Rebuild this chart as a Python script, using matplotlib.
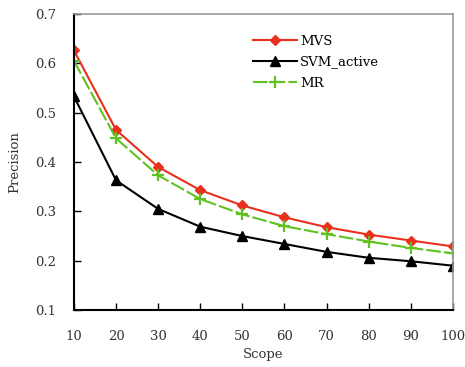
import matplotlib
matplotlib.use("Agg")
import matplotlib.pyplot as plt

# values
scope = [10, 20, 30, 40, 50, 60, 70, 80, 90, 100]
mvs = [0.626, 0.465, 0.390, 0.343, 0.312, 0.288, 0.268, 0.253, 0.241, 0.229]
svm_active = [0.533, 0.363, 0.305, 0.269, 0.250, 0.234, 0.218, 0.206, 0.199, 0.190]
mr = [0.605, 0.448, 0.373, 0.325, 0.294, 0.270, 0.254, 0.239, 0.226, 0.215]

plt.rcParams['font.family'] = ['DejaVu Serif']

fig = plt.figure(figsize=(4.65, 3.67), dpi=100)
ax = fig.add_axes([0.159, 0.155, 0.815, 0.807])

ax.plot(scope, mvs, color="#e8301c", marker="D", markersize=5.5, lw=1.5, label="MVS")
ax.plot(scope, svm_active, color="black", marker="^", markersize=7, lw=1.5, label="SVM_active")
ax.plot(scope, mr, color="#5fc21e", marker="+", markersize=9, mew=1.6, lw=1.5,
        dashes=(7, 1.5), label="MR")

ax.set_xlim(10, 100)
ax.set_ylim(0.1, 0.7)
ax.set_xticks(scope)
ax.set_yticks([0.1, 0.2, 0.3, 0.4, 0.5, 0.6, 0.7])
ax.set_yticklabels(["0.1", "0.2", "0.3", "0.4", "0.5", "0.6", "0.7"])

ax.tick_params(axis="x", direction="in", length=5, width=1, pad=14, labelsize=9.5, colors="#333333")
ax.tick_params(axis="y", direction="in", length=5, width=1, pad=13, labelsize=9.5, colors="#333333")
ax.tick_params(axis="both", color="black")

for s in ["left", "bottom"]:
    ax.spines[s].set_linewidth(1.5)
    ax.spines[s].set_color("black")
for s in ["top", "right"]:
    ax.spines[s].set_linewidth(1.2)
    ax.spines[s].set_color("#999999")

ax.set_xlabel("Scope", fontsize=9.5, color="#333333", labelpad=4)
ax.set_ylabel("Precision", fontsize=9.5, color="#333333", labelpad=10)

ax.legend(loc="upper left", bbox_to_anchor=(0.44, 0.97), frameon=False,
          fontsize=9.5, handlelength=3.4, handletextpad=0.2, labelspacing=0.6)

fig.savefig("out.png", dpi=100)
